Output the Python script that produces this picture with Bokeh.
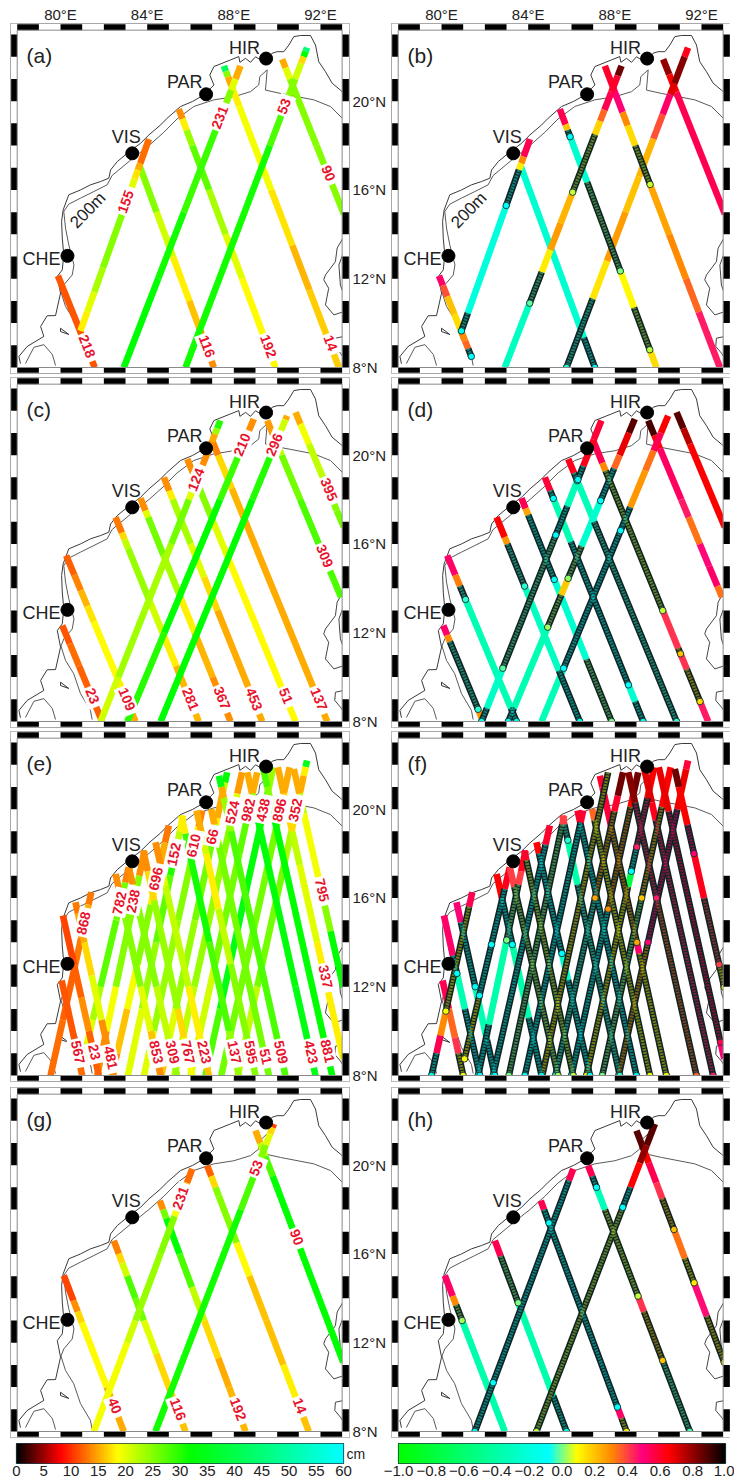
import math
import numpy as np
from bokeh.core.properties import value
from bokeh.embed import file_html
from bokeh.layouts import column, row
from bokeh.models import ColumnDataSource, FixedTicker, LinearAxis, LinearColorMapper, Range1d
from bokeh.plotting import figure
from bokeh.resources import INLINE
from bokeh.transform import transform

FONT = "Liberation Sans"

# ---------- colour scales ----------
CM_KNOTS = [(0, "#000000"), (8, "#ff0000"), (18.5, "#ffff00"), (32, "#00ff00"), (60, "#00ffff")]
COR_KNOTS = [(-1, "#00ff00"), (-.08, "#00ffff"), (.09, "#ffff00"), (.3, "#ff8c00"), (.49, "#ff0080"), (.66, "#ff0000"), (1, "#000000")]
CM_TICKS = [0, 5, 10, 15, 20, 25, 30, 35, 40, 45, 50, 55, 60]
COR_TICKS = [-1.0, -.8, -.6, -.4, -.2, 0.0, .2, .4, .6, .8, 1.0]

# ---------- map outlines (lon, lat) ----------
COAST = [(78.15, 8.17), (78.08, 8.5), (78.46, 8.95), (79.23, 9.4), (79.08, 9.85), (79.38, 10.33), (79.77, 10.34), (80, 11.35),
         (79.85, 12.1), (80.08, 12.4), (80.15, 13.08), (80.08, 13.83), (80.05, 14.58), (80.12, 15.1), (80.38, 15.78), (80.92, 16.0),
         (81.38, 16.23), (81.85, 16.38), (82.23, 16.53), (82.31, 16.9), (82.62, 17.28), (83.08, 17.65), (83.69, 18.1), (84.08, 18.48),
         (84.62, 18.93), (84.92, 19.23), (85.54, 19.76), (86.08, 19.98), (86.62, 20.28), (87.08, 20.73), (86.89, 21.18), (87.08, 21.56),
         (87.85, 21.86), (88.23, 22.01), (88.28, 21.75), (88.54, 21.93), (88.77, 21.75), (89, 22.0), (89.38, 21.78), (89.77, 22.16),
         (90, 22.23), (90.31, 22.23), (90.54, 22.53), (90.77, 22.91), (91.08, 22.96), (91.54, 22.96), (91.77, 22.53), (91.92, 21.78),
         (92.23, 21.33), (92.54, 20.81), (92.92, 20.5), (93.08, 20.36)]
ISOBATH = [(81.46, 8.09), (81.38, 8.5), (80.92, 9.26), (80.61, 10.15), (80.23, 10.75), (80.02, 11.4), (80.15, 11.72), (80.54, 12.17),
           (80.62, 12.62), (80.38, 13.53), (80.23, 14.28), (80.15, 15.03), (80.38, 15.36), (80.92, 15.63), (81.54, 15.93), (82.15, 16.23),
           (82.38, 16.65), (83.38, 17.46), (84.08, 18.0), (84.77, 18.6), (85.38, 19.2), (86.15, 19.76), (87.08, 20.06), (88, 20.2),
           (88.77, 20.43), (89.15, 20.73), (89.2, 21.11), (89.54, 21.41), (89.46, 20.5), (90.15, 20.35), (91.69, 20.06), (92.46, 19.76), (93.08, 19.16)]
ARCH = [(78.38, 8.18), (78.77, 8.91), (79.23, 9.03), (79.62, 8.59), (79.77, 8.09)]
SPIT = [(80, 9.77), (80.38, 9.49), (80, 9.62), (80, 9.77)]
ANDAMAN1 = [(93.08, 13.9), (92.77, 13.38), (92.69, 12.77), (92.23, 12.17), (92.15, 11.95), (92.38, 11.57), (92.23, 10.82), (92.62, 10.37), (93.08, 10.52)]
ANDAMAN2 = [(93.08, 13.23), (92.85, 12.62), (92.92, 11.72), (93.08, 11.27)]
ANDAMAN3 = [(93.08, 9.4), (92.69, 9.32), (92.66, 8.95), (92.92, 8.65), (93.08, 8.42)]

STATION_NAMES = ["CHE", "PAR", "VIS", "HIR"]
STATION_LON = [80.32, 86.72, 83.31, 89.49]
STATION_LAT = [13.03, 20.31, 17.65, 21.92]

# ---------- ground tracks: lon_top, lat_top, lon_bottom, lat_bottom ----------
TRACKS_AB = {"218": (79.88, 12.13, 81.58, 8), "116": (83.62, 17.16, 87.08, 8), "192": (85.46, 19.64, 89.92, 8),
             "14": (87.54, 21.59, 92.85, 8), "90": (90.23, 21.89, 93.08, 14.91), "155": (84.08, 18.29, 80.92, 9.65),
             "231": (88.31, 21.59, 82.92, 8), "53": (91.38, 22.41, 85.77, 8)}
TRACKS_CD = {"23": (80.08, 12.32, 81.92, 8), "109": (80.26, 15.48, 83.46, 8), "281": (82.54, 17.2, 86.38, 8),
             "367": (83.69, 18.06, 87.85, 8), "453": (84.77, 19.0, 89.31, 8), "51": (85.85, 19.83, 90.85, 8),
             "137": (87.0, 20.66, 92.31, 8), "309": (89.54, 21.56, 92.95, 13.6), "395": (90.85, 21.93, 93.08, 16.75),
             "124": (87.38, 21.56, 81.85, 8), "210": (88.92, 21.63, 83.08, 8), "296": (90.46, 21.78, 84.62, 8)}
TRACKS_EF = {"868": (81.42, 16.26, 79.54, 8), "782": (83.15, 17.38, 81.06, 8.75), "238": (83.88, 18.14, 81.69, 8),
             "696": (85, 19.26, 82.38, 8), "152": (85.66, 19.71, 83.11, 8), "610": (86.54, 19.94, 83.85, 8),
             "66": (87.69, 21.66, 84.65, 8), "524": (88.38, 21.66, 85.26, 8), "982": (89.08, 21.66, 86, 8),
             "438": (89.82, 21.89, 86.69, 8), "896": (90.58, 21.89, 87.42, 8), "352": (91.38, 22.19, 88.18, 8),
             "567": (80.05, 12.28, 81, 8), "23": (80.11, 15.21, 81.77, 8), "481": (80.69, 15.81, 82.46, 8),
             "853": (82.54, 17.08, 84.62, 8), "309": (83.15, 17.38, 85.38, 8), "767": (83.82, 18.14, 86.08, 8),
             "223": (84.38, 18.51, 86.85, 8), "137": (85.58, 19.71, 88.23, 8), "595": (86.28, 19.94, 89, 8),
             "51": (86.95, 20.01, 89.62, 8), "509": (87.31, 21.51, 90.38, 8), "423": (88.62, 21.66, 91.77, 8),
             "881": (89.34, 21.89, 92.54, 8), "337": (90.03, 21.89, 93.05, 8.75), "795": (90.77, 21.81, 93.05, 11.98)}
TRACKS_GH = {"40": (80.15, 15.03, 82.92, 8), "116": (82.46, 16.6, 85.77, 8), "192": (84.58, 18.4, 88.54, 8),
             "14": (86.77, 19.98, 91.46, 8), "90": (89, 21.56, 93.05, 11.12), "231": (86.08, 19.83, 81.54, 8),
             "53": (89.85, 21.86, 84.38, 8)}

# ---------- track label latitudes ----------
LABELS_A = {"218": 8.9, "155": 15.5, "116": 8.9, "192": 8.9, "14": 9.05, "90": 16.7, "53": 19.8, "231": 19.3}
LABELS_C = {"23": 9.1, "109": 8.95, "281": 8.95, "367": 9.0, "453": 8.95, "51": 9.1, "137": 8.95, "309": 15.4, "395": 18.4,
            "124": 18.93, "210": 20.5, "296": 20.5}
LABELS_E = {"868": 14.9, "782": 15.8, "238": 15.9, "696": 16.9, "152": 18, "610": 18.4, "66": 18.8, "524": 19.9, "982": 20,
            "438": 20, "896": 20, "352": 20, "567": 9, "23": 9, "481": 8.75, "853": 9, "309": 9, "767": 9, "223": 9, "137": 9,
            "595": 9, "51": 8.8, "509": 9, "423": 9, "881": 9.05, "337": 12.4, "795": 16.3}
LABELS_G = {"40": 9.1, "116": 8.95, "192": 8.95, "14": 9.1, "90": 16.7, "53": 19.9, "231": 18.55}

# ---------- values along each track, from its top end down: (lat where the run ends, value[, 1 = significant])
#            a run ending at lat 0 goes on to the bottom of the track
RMS_A = {"155": [(17.2, 12.5), (16.9, 15), (16.5, 17.5), (15.5, 20), (12.5, 25), (11.4, 23), (10.5, 20), (0, 18)],
         "231": [(21.0, 15), (20.5, 20), (19.5, 25), (15, 29), (12, 31), (0, 32)],
         "53": [(22.25, 45), (22.0, 32), (21.7, 17), (21, 21), (20, 25), (18, 28), (0, 31)],
         "90": [(21.5, 15), (21, 20), (18, 25), (0, 25)],
         "14": [(21.35, 42), (21.1, 25), (20.7, 15), (19.8, 18), (16, 19), (13.5, 17.5), (11.5, 15.5), (0, 16.5)],
         "192": [(19.2, 14), (18.7, 18), (18, 24), (16, 27), (14, 23), (12, 20), (0, 18.5)],
         "116": [(15, 25), (13, 21), (11, 18), (9.8, 16), (0, 14)],
         "218": [(0, 11.5)]}
COR_B = {"155": [(17.5, .55), (17.2, .3), (16.9, .12), (15.3, -.1, 1), (10.45, -.2), (0, -.15, 1)],
         "231": [(21.15, .85), (20.4, .6), (19.6, .55), (19.1, .35), (18.5, .17), (15.9, .05, 1), (14.5, .22), (13.3, .27), (12.3, .12), (10.9, -.02, 1), (0, -.3)],
         "53": [(22.0, .62), (20.8, .82), (20.3, .7), (19.4, .52), (18.3, .38), (16.6, .22), (15.0, .2), (12.8, .27), (11.1, .14), (0, -.05, 1)],
         "90": [(21.2, .8), (20.4, .66), (0, .55)],
         "14": [(20.6, .6), (19.5, .5), (18.9, .3), (18.0, .15), (16.25, .06, 1), (14, .25), (12, .3), (10.5, .35), (0, .45)],
         "192": [(18.95, .55), (18.7, .2), (18.4, -.1, 1), (16.35, -.25), (12.35, .0, 1), (10.7, .1), (8.8, .04, 1), (0, .15)],
         "116": [(9.35, -.25), (0, -.1, 1)],
         "218": [(11.7, .52), (11.2, .38), (10.4, .2), (9.7, .15), (9.2, .3), (8.85, .35), (8.5, -.1, 1)]}
RMS_C = {"23": [(11.5, 11.5), (10.5, 12.5), (0, 12)],
         "109": [(14.6, 12), (13.9, 13.5), (13.2, 15.5), (12.5, 17.5), (9.8, 18.5), (8.4, 18), (0, 15)],
         "281": [(16.5, 13), (16.2, 17), (15.8, 22), (13.5, 24), (12, 21), (10.5, 18), (0, 15.5)],
         "367": [(17.5, 14), (17.2, 20), (15.5, 26), (13.5, 23), (12, 18), (10, 15.5), (0, 14)],
         "453": [(18.4, 14), (18, 18), (16, 23), (14.5, 20), (13, 17), (0, 15)],
         "51": [(19.2, 14), (18.7, 20), (17, 25), (15.5, 20), (0, 18.5)],
         "137": [(20, 13.5), (18.5, 17), (17.3, 15.5), (0, 15)],
         "309": [(20.8, 14.5), (20, 22), (18, 26), (0, 28)],
         "395": [(21.4, 15), (20.5, 19), (19, 22), (17.5, 25), (0, 26)],
         "124": [(21.2, 30), (20.95, 24), (20.6, 15), (19, 14), (18, 20), (16, 26), (13, 23), (10, 23.5), (0, 21)],
         "210": [(20.9, 14), (20, 22), (18, 29), (12, 32), (0, 30)],
         "296": [(21.6, 15), (21, 21), (20, 26), (18, 30), (0, 32)]}
COR_D = {"23": [(11.9, .52), (11.6, .3), (8.55, -.05, 1), (0, .28)],
         "109": [(14.6, .52), (14.1, .32), (13.5, -.05, 1), (8.6, -.35), (0, -.15, 1)],
         "281": [(16.3, .65), (16, .28), (14.1, -.05, 1), (10.3, -.3), (0, -.12, 1)],
         "367": [(17.6, .55), (17.3, .25), (14.4, -.12, 1), (10.8, -.25), (0, .0, 1)],
         "453": [(18.4, .58), (18.05, -.12, 1), (16.1, -.35), (9.65, -.1, 1), (8.9, -.25), (0, -.12, 1)],
         "51": [(19.2, .62), (18.85, -.05, 1), (17, -.33), (0, -.05, 1)],
         "137": [(19.65, .55), (19.3, .3), (13, .05, 1), (11.3, .42), (11.05, .2, 1), (10.35, .42), (8.9, .15, 1), (0, .45)],
         "309": [(20.9, .9), (20.3, .65), (18, .53), (17.2, .45), (16, .33), (15, .48), (14.1, .52), (0, .33)],
         "395": [(21.2, .88), (20.5, .75), (0, .66)],
         "124": [(20.7, .58), (19.5, .62), (18.9, -.1, 1), (17.7, -.33), (16.4, -.1, 1), (10.4, -.02, 1), (8.6, -.28), (0, -.1, 1)],
         "210": [(21, .88), (20, .68), (19.4, .35), (17.95, -.08, 1), (15.9, -.25), (14.45, .02, 1), (13.7, .18), (12.25, .03, 1), (8.6, -.35), (0, -.1, 1)],
         "296": [(21, .66), (20.2, .55), (19.3, .33), (17.65, .28), (16.6, -.1, 1), (10.4, -.08, 1), (0, -.33)]}
RMS_E = {"868": [(15.7, 13), (14.2, 15), (13, 13), (10.5, 12), (0, 12.5)],
         "782": [(16.7, 13.5), (15, 26), (12, 27), (10.5, 23), (0, 20)],
         "238": [(17, 14), (15.5, 25), (12, 25), (10, 19), (0, 14)],
         "696": [(18.5, 13), (16.4, 15), (15.7, 18), (13, 25), (11, 19), (9, 16), (0, 14)],
         "152": [(19, 18), (18, 22), (17, 30), (14, 27), (11, 24), (0, 20)],
         "610": [(19.2, 13.5), (18, 18), (15, 25), (10, 24), (0, 20)],
         "66": [(21.2, 32), (20.9, 22), (19.6, 15), (18.5, 18), (15, 26), (11, 24), (9, 20), (0, 16)],
         "524": [(20.7, 14.5), (19.8, 20), (18, 25), (12, 24), (0, 22)],
         "982": [(20.7, 15), (19.8, 21), (18, 27), (13, 26), (0, 21)],
         "438": [(20.9, 24), (19.5, 29), (16, 33), (11, 34), (0, 28)],
         "896": [(20.7, 15), (19.6, 20), (17, 26), (0, 26)],
         "352": [(21.9, 35), (21.5, 18), (20.8, 15), (19, 17), (17.5, 23), (12, 26), (0, 22)],
         "567": [(9, 11.5), (0, 12.5)],
         "23": [(13, 11), (11.5, 12), (10, 14), (0, 12)],
         "481": [(15.3, 13), (14, 15), (12.5, 17), (10.5, 20), (0, 14)],
         "853": [(16.4, 14), (15.5, 20), (12, 25), (10, 20), (9.5, 16), (0, 14)],
         "309": [(16.6, 14), (15.7, 22), (12, 25), (9, 22), (0, 24)],
         "767": [(17.2, 14), (15.9, 17), (14.5, 24), (11, 24), (9.7, 17), (0, 19)],
         "223": [(17.5, 14), (16.5, 20), (12, 22), (9.5, 18), (0, 16)],
         "137": [(18.9, 18), (18, 29), (14, 31), (10, 28), (0, 24)],
         "595": [(19, 15), (18, 21), (15.5, 18), (13, 22), (0, 25)],
         "51": [(19.3, 15), (18.5, 22), (0, 26)],
         "509": [(21.0, 34), (20.5, 15), (19, 24), (0, 28)],
         "423": [(20.7, 15), (19.5, 24), (12, 33), (0, 34)],
         "881": [(21, 28), (20, 25), (0, 32)],
         "337": [(20.7, 15), (19, 17), (17.5, 22), (14, 20), (0, 18)],
         "795": [(20.7, 15), (19.8, 22), (16, 19), (14.5, 25), (0, 32)]}
COR_F = {"868": [(15.6, .55), (10.9, .08, 1), (9.8, .3), (9, .55), (0, -.1, 1)],
         "782": [(16.4, .62), (13.9, -.1, 1), (11.6, -.1, 1), (8.75, .1, 1)],
         "238": [(17.2, .62), (16.6, .4), (14.1, .0, 1), (10.3, -.38), (0, -.1, 1)],
         "696": [(18.4, .6), (0, -.1, 1)],
         "152": [(19.3, .38), (0, .0, 1)],
         "610": [(19.4, .58), (0, -.08, 1)],
         "66": [(0, .12, 1)],
         "524": [(20.6, .85), (19.9, .6), (16, .25, 1), (0, -.05, 1)],
         "982": [(20.7, .85), (20.1, .66), (15.5, .3, 1), (0, -.1, 1)],
         "438": [(20.5, .66), (18.3, .45, 1), (17.2, -.1, 1), (16.5, -.75), (0, .1, 1)],
         "896": [(20.1, .65), (16, .2, 1), (0, .0, 1)],
         "352": [(21.8, .58), (20, .68), (14, .5, 1), (0, .25, 1)],
         "567": [(11.0, .55), (9.7, .35), (9.0, .42), (0, .1, 1)],
         "23": [(13.4, .52), (12.6, -.1, 1), (11, -.35), (0, -.08, 1)],
         "481": [(14.9, .5), (12, -.1, 1), (9.6, -.35), (0, -.1, 1)],
         "853": [(16, .65), (13.9, -.1, 1), (10.6, -.38), (0, -.12, 1)],
         "309": [(16.5, .4), (0, .03, 1)],
         "767": [(17.7, .6), (0, .05, 1)],
         "223": [(18, .65), (13.5, -.08, 1), (12.3, -.28), (0, -.08, 1)],
         "137": [(19.3, .4), (18.6, -.05, 1), (16.6, -.38), (0, -.05, 1)],
         "595": [(19.3, .6), (0, -.1, 1)],
         "51": [(19.5, .35), (0, .08, 1)],
         "509": [(21, .6), (19.2, .58), (14, .25, 1), (13.5, .52), (0, .1, 1)],
         "423": [(20.3, .82), (16, .45, 1), (0, .35, 1)],
         "881": [(20.3, .7), (19.5, .62), (0, .45, 1)],
         "337": [(19.9, .68), (9.5, .55, 1), (0, .5)],
         "795": [(21, .85), (19.3, .66), (18, .5, 1), (16, .62), (13, .4, 1), (0, .1, 1)]}
RMS_G = {"40": [(13.9, 11), (13.4, 14), (12.9, 17), (10, 18.5), (0, 15)],
         "116": [(16, 13.5), (15.6, 17), (15, 21), (14, 28), (13, 26), (11.5, 20), (10, 17), (0, 16)],
         "192": [(18, 14), (17.6, 26), (16, 32), (14.5, 28), (13, 22), (11.3, 17), (10, 15), (0, 15.5)],
         "14": [(19.5, 12), (19, 17), (18.6, 25), (16.5, 25), (15, 18.5), (13, 16), (11, 16), (9.5, 18), (0, 16)],
         "90": [(21, 15), (20.4, 22), (19.5, 28), (0, 32)],
         "231": [(19.2, 12.5), (18.8, 16), (17.7, 19), (16, 25), (13, 24), (12, 21), (0, 19)],
         "53": [(21.7, 11), (21.4, 17), (20.9, 20), (20, 25), (18, 28), (0, 31)]}
COR_H = {"40": [(14.1, .52), (13.7, .3), (13, .03, 1), (0, -.37)],
         "116": [(15.9, .55), (13.8, 0, 1), (9.6, -.37), (0, -.15, 1)],
         "192": [(18, .55), (17.4, -.12, 1), (9.1, -.08, 1), (8.6, .52), (0, .12, 1)],
         "14": [(19.5, .55), (19, -.1, 1), (18, -.33), (14.1, .05, 1), (13.4, .42), (11.2, .2, 1), (0, -.03, 1)],
         "90": [(20.7, .88), (20.1, .66), (19.2, .55), (18.5, .42), (17.1, .2, 1), (15.8, .33), (14.7, .12, 1), (13.2, .47), (0, .15, 1)],
         "231": [(19.3, .55), (10.2, -.08, 1), (0, -.1, 1)],
         "53": [(20.9, .88), (20.1, .8), (19, .65), (18.1, -.08, 1), (0, .05, 1)]}

# ---------- page geometry ----------
FRAME_W, FRAME_H = 339, 350
LON_MIN, LON_MAX = 77.69, 93.34
LAT_MIN, LAT_MAX = 7.73, 23.50
MAP_W, MAP_E, MAP_S, MAP_N = 78.0, 93.0, 8.0, 23.2
PX_LON = FRAME_W / (LON_MAX - LON_MIN)
PX_LAT = FRAME_H / (LAT_MAX - LAT_MIN)


def make_palette(knots, n=256):
    xs = [k[0] for k in knots]
    rgb = [[int(k[1][i:i + 2], 16) for i in (1, 3, 5)] for k in knots]
    t = np.linspace(xs[0], xs[-1], n)
    ch = [np.interp(t, xs, [c[j] for c in rgb]) for j in range(3)]
    return ["#%02x%02x%02x" % (int(r), int(g), int(b)) for r, g, b in zip(*ch)]


CM_MAP = LinearColorMapper(palette=make_palette(CM_KNOTS), low=0, high=60)
COR_MAP = LinearColorMapper(palette=make_palette(COR_KNOTS), low=-1, high=1)


def lon_at(geo, lat):
    lon0, lat0, lon1, lat1 = geo
    return lon0 + (lon1 - lon0) * (lat - lat0) / (lat1 - lat0)


def draw_panel(tag, tracks, runs, labels, mapper, left_col, first_row, bottom_gap, contour_label):
    p = figure(frame_width=FRAME_W, frame_height=FRAME_H, output_backend="svg", toolbar_location=None,
               x_range=Range1d(LON_MIN, LON_MAX), y_range=Range1d(LAT_MIN, LAT_MAX),
               x_axis_location=None, y_axis_location=None,
               min_border_left=10 if left_col else 0, min_border_right=42 if left_col else 0,
               min_border_top=23 if first_row else 0, min_border_bottom=bottom_gap,
               background_fill_color="white", border_fill_color="white", outline_line_color="#8a8a8a", outline_line_width=1)
    p.grid.visible = False

    if first_row:
        ax = LinearAxis(ticker=FixedTicker(ticks=[80, 84, 88, 92]),
                        major_label_overrides={v: f"{v}\u00b0E" for v in (80, 84, 88, 92)})
        style_axis(ax, 1)
        p.add_layout(ax, "above")
    if left_col:
        ax = LinearAxis(ticker=FixedTicker(ticks=[8, 12, 16, 20]),
                        major_label_overrides={v: f"{v}\u00b0N" for v in (8, 12, 16, 20)})
        style_axis(ax, 3)
        p.add_layout(ax, "right")

    # coast and shelf edge
    for line, col, w in ((ISOBATH, "#5a5a5a", 1.0), (COAST, "#3a3a3a", 1.0), (ARCH, "#5a5a5a", 1.0), (SPIT, "#333333", 1.0),
                         (ANDAMAN1, "#444444", 1.0), (ANDAMAN2, "#444444", 1.0), (ANDAMAN3, "#444444", 1.0)):
        p.line([c[0] for c in line], [c[1] for c in line], line_color=col, line_width=w)

    plain = dict(x0=[], y0=[], x1=[], y1=[], v=[])
    dark = dict(x0=[], y0=[], x1=[], y1=[], v=[])
    ends = dict(x=[], y=[], v=[])
    for name, geo in tracks.items():
        lat = geo[1]
        for r in runs[name]:
            end = r[0] if r[0] > geo[3] else geo[3]
            out = dark if len(r) > 2 else plain
            out["x0"].append(lon_at(geo, lat)); out["y0"].append(lat)
            out["x1"].append(lon_at(geo, end)); out["y1"].append(end)
            out["v"].append(r[1])
            if len(r) > 2:
                ends["x"].append(lon_at(geo, end)); ends["y"].append(end); ends["v"].append(r[1])
            lat = end
    col = transform("v", mapper)
    seg = dict(x0="x0", y0="y0", x1="x1", y1="y1")
    p.segment(source=ColumnDataSource(plain), line_color=col, line_width=6.6, **seg)
    if dark["v"]:
        src = ColumnDataSource(dark)
        p.segment(source=src, line_color="#102222", line_width=6.6, **seg)
        p.segment(source=src, line_color=col, line_width=3.6, line_alpha=.42, line_dash="2 1", **seg)
        p.scatter("x", "y", source=ColumnDataSource(ends), size=6.5, fill_color=col, line_color="#143030", line_width=.9)

    if labels:
        names = list(labels)
        xs, ys, ang = [], [], []
        for n in names:
            g = tracks[n]
            xs.append(lon_at(g, labels[n])); ys.append(labels[n])
            a = math.atan2((g[1] - g[3]) * PX_LAT, (g[0] - g[2]) * PX_LON)
            if a > math.pi / 2:
                a -= math.pi
            ang.append(a)
        p.text(xs, ys, text=names, angle=ang, text_color="#e8132c", text_font=value(FONT), text_font_size="14px",
               text_font_style="bold", text_align="center", text_baseline="middle", background_fill_color="white",
               padding=[2, 4, 2, 4])

    # checkered boundary
    p.quad(left=[LON_MIN, MAP_E, LON_MIN, LON_MIN], right=[MAP_W, LON_MAX, LON_MAX, LON_MAX],
           bottom=[LAT_MIN, LAT_MIN, LAT_MIN, MAP_N], top=[LAT_MAX, LAT_MAX, MAP_S, LAT_MAX],
           fill_color="white", line_color=None)
    blon = list(range(78, 93, 2))
    blat = list(range(8, 23, 2))
    p.quad(left=blon, right=[v + 1 for v in blon], bottom=LAT_MIN + 0.03, top=MAP_S, fill_color="black", line_color=None)
    p.quad(left=blon, right=[v + 1 for v in blon], bottom=MAP_N, top=LAT_MAX - 0.03, fill_color="black", line_color=None)
    p.quad(left=LON_MIN + 0.03, right=MAP_W, bottom=blat, top=[v + 1 for v in blat], fill_color="black", line_color=None)
    p.quad(left=MAP_E, right=LON_MAX - 0.03, bottom=blat, top=[v + 1 for v in blat], fill_color="black", line_color=None)
    p.quad(left=[MAP_W], right=[MAP_E], bottom=[MAP_S], top=[MAP_N], fill_color=None, line_color="#8a8a8a", line_width=1)

    # stations
    p.scatter(STATION_LON, STATION_LAT, size=13, fill_color="black", line_color="black")
    off_x = [-7, -3.5, 8.5, -6]
    off_y = [3, -12, -16, -11]
    for nm, lo, la, ox, oy in zip(STATION_NAMES, STATION_LON, STATION_LAT, off_x, off_y):
        p.text([lo], [la], text=[nm], x_offset=ox, y_offset=oy, text_align="right", text_baseline="middle",
               text_font=value(FONT), text_font_size="18px", text_color="#222222")

    p.text([78.43], [22.04], text=[tag], text_align="left", text_baseline="middle", text_font=value(FONT),
           text_font_size="21px", text_color="#222222")
    if contour_label:
        p.text([81.26], [15.09], text=["200m"], angle=math.radians(46), text_align="center", text_baseline="middle",
               text_font=value(FONT), text_font_size="17px", text_color="#222222")
    return p


def style_axis(ax, standoff):
    ax.axis_line_color = None
    ax.major_tick_line_color = None
    ax.minor_tick_line_color = None
    ax.major_tick_out = 0
    ax.major_tick_in = 0
    ax.minor_tick_out = 0
    ax.minor_tick_in = 0
    ax.major_label_standoff = standoff
    ax.major_label_text_font = FONT
    ax.major_label_text_font_size = "15px"
    ax.major_label_text_color = "#222222"


def draw_bar(mapper, low, high, ticks, overrides, left, frame, right, unit):
    p = figure(frame_width=frame, frame_height=20, output_backend="svg", toolbar_location=None,
               x_range=Range1d(low, high), y_range=Range1d(0, 1), x_axis_location=None, y_axis_location=None,
               min_border_left=left, min_border_right=right, min_border_top=0, min_border_bottom=0,
               outline_line_color="#1d3b46", outline_line_width=1.2)
    p.grid.visible = False
    p.image(image=[np.linspace(low, high, 512).reshape(1, -1)], x=low, y=0, dw=high - low, dh=1, color_mapper=mapper)
    ax = LinearAxis(ticker=FixedTicker(ticks=ticks), major_label_overrides=overrides)
    style_axis(ax, 2)
    p.add_layout(ax, "below")
    if unit:
        uax = LinearAxis(ticker=FixedTicker(ticks=[0.5]), major_label_overrides={0.5: unit})
        style_axis(uax, 3)
        uax.major_label_text_font_size = "14px"
        p.add_layout(uax, "right")
    return p


pa = draw_panel("(a)", TRACKS_AB, RMS_A, LABELS_A, CM_MAP, True, True, 4, True)
pb = draw_panel("(b)", TRACKS_AB, COR_B, None, COR_MAP, False, True, 4, True)
pc = draw_panel("(c)", TRACKS_CD, RMS_C, LABELS_C, CM_MAP, True, False, 4, False)
pd_ = draw_panel("(d)", TRACKS_CD, COR_D, None, COR_MAP, False, False, 4, False)
pe = draw_panel("(e)", TRACKS_EF, RMS_E, LABELS_E, CM_MAP, True, False, 6, False)
pf = draw_panel("(f)", TRACKS_EF, COR_F, None, COR_MAP, False, False, 6, False)
pg = draw_panel("(g)", TRACKS_GH, RMS_G, LABELS_G, CM_MAP, True, False, 6, False)
ph = draw_panel("(h)", TRACKS_GH, COR_H, None, COR_MAP, False, False, 6, False)

bar_l = draw_bar(CM_MAP, 0, 60, CM_TICKS, {v: str(v) for v in CM_TICKS}, 16, 327, 27, "cm")
bar_r = draw_bar(COR_MAP, -1, 1, COR_TICKS, {v: f"{v:.1f}".replace("-", "\u2212") for v in COR_TICKS}, 28, 327, 9, None)

page = column(row(pa, pb), row(pc, pd_), row(pe, pf), row(pg, ph), row(bar_l, bar_r))
open("out.html", "w").write(file_html(page, INLINE))
